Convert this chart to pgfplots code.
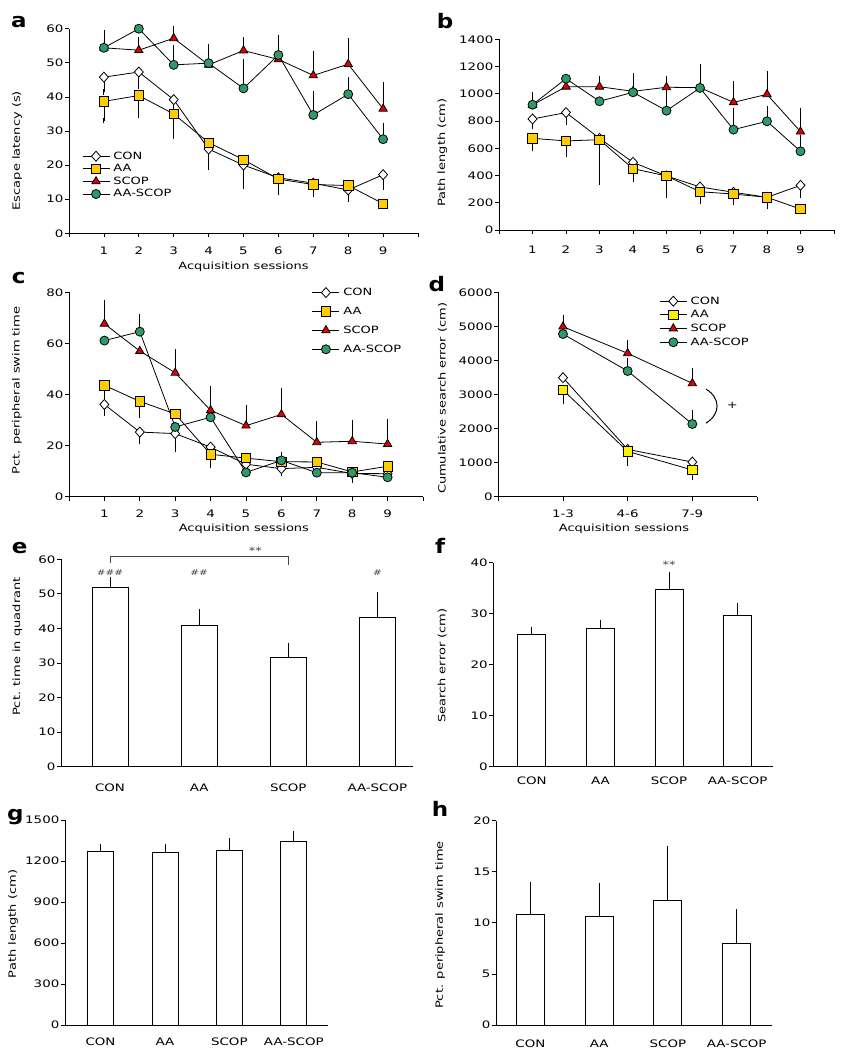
\documentclass[border=0pt]{standalone}
\usepackage{fontspec}
\setmainfont{DejaVu Sans}[FakeStretch=1.3]
\newfontfamily\letterfont{DejaVu Sans}[FakeStretch=1.15]
\usepackage{pgfplots}
\pgfplotsset{compat=1.18}
\definecolor{aayel}{HTML}{FFCC00}
\definecolor{aayel2}{HTML}{FFF000}
\definecolor{scopred}{HTML}{E00000}
\definecolor{aagreen}{HTML}{2E9A6A}
\definecolor{annot}{HTML}{444444}
\pgfplotsset{
  panel/.style={
    scale only axis, axis lines=left,
    axis line style={-, line width=0.8pt, black},
    tick style={line width=0.8pt, black}, tick align=outside, major tick length=4pt,
    minor tick num=0,
    /pgf/number format/assume math mode=true,
    /pgf/number format/1000 sep={},
    tick label style={font=\fontsize{10.3}{12}\selectfont, black},
    yticklabel style={inner xsep=1.5pt},
    ylabel style={font=\fontsize{10}{12}\selectfont, anchor=center},
    xlabel style={font=\fontsize{10}{12}\selectfont, anchor=center},
    clip=false,
    legend style={draw=none, fill=none, font=\fontsize{10}{12}\selectfont,
      inner sep=0pt, anchor=north west, legend cell align=left,
      nodes={inner sep=0.5pt},
      /tikz/every odd column/.append style={column sep=3pt}},
    legend image code/.code={\draw[mark repeat=2,mark phase=2,#1] plot coordinates {(0pt,0pt) (13.5pt,0pt) (27pt,0pt)};},
  },
  barpanel/.style={panel, ybar, xtick={1,2,3,4},
    xticklabels={CON,AA,SCOP,AA-SCOP}, xtick style={draw=none}},
  conmark/.style={black, line width=0.8pt, mark=diamond*, mark size=5pt, mark options={fill=white, xscale=1.2}},
  aamark/.style={black, line width=0.8pt, mark=square*, mark size=4.7pt, mark options={fill=aayel}},
  scopmark/.style={black, line width=0.8pt, mark=triangle*, mark size=4.8pt, mark options={fill=scopred}},
  aasmark/.style={black, line width=0.8pt, mark=*, mark size=4.5pt, mark options={fill=aagreen}},
  errs/.style={forget plot, draw=none, mark=none,
    error bars/.cd, y dir=both, y explicit,
    error bar style={draw=black, line width=0.8pt},
    error mark options={draw=black, mark size=2.7pt, line width=0.8pt}},
  barplot/.style={fill=white, draw=black, line width=0.8pt,
    error bars/.cd, y dir=plus, y explicit,
    error bar style={draw=black, line width=0.8pt},
    error mark options={draw=black, mark size=3pt, line width=0.8pt}},
}
\begin{document}
\begin{tikzpicture}
\useasboundingbox (0,0) rectangle (854pt,-1050pt);
\tikzset{plabel/.style={anchor=base west, inner sep=0pt, font=\letterfont\bfseries\fontsize{20}{20}\selectfont}}
\node[plabel] at (11pt,-27.3pt) {a};
\node[plabel] at (436.7pt,-28.3pt) {b};
\node[plabel] at (11.7pt,-283.3pt) {c};
\node[plabel] at (428.3pt,-291.7pt) {d};
\node[plabel] at (11.7pt,-553.3pt) {e};
\node[plabel] at (435pt,-553.3pt) {f};
\node[plabel] at (7pt,-820pt) {g};
\node[plabel] at (431.7pt,-816.7pt) {h};

% ---------------- a
\begin{axis}[panel, at={(69pt,-233.3pt)}, anchor=south west, width=349pt, height=204.6pt,
  xmin=0, xmax=10, ymin=0, ymax=60, xtick={0,...,10},
  xticklabels={{},1,2,3,4,5,6,7,8,9,{}}, ytick={0,10,...,60},
  xticklabel style={yshift=-6pt},
  xlabel={Acquisition sessions}, ylabel={Escape latency (s)},
  xlabel style={at={(axis description cs:0.5,-0.163)}},
  ylabel style={at={(axis description cs:-0.149,0.404)}},
  legend style={at={(axis description cs:0.037,0.402)}, row sep=2.7pt}]
\addplot[errs] coordinates {(1,45.8) -= (0,4.4) (2,47.3) -= (0,4.1) (3,39.2) -= (0,8.1) (4,24.7) -= (0,5.4) (5,20.0) -= (0,6.1) (6,16.3) -= (0,4.4) (7,14.7) -= (0,3.3) (8,12.7) -= (0,2.6) (9,17.2) -= (0,3.7)};
\addplot[errs] coordinates {(1,38.7) -= (0,5.7) (2,40.4) -= (0,5.8) (3,35.0) -= (0,6.5) (4,26.6) -= (0,4.6) (5,21.6) -= (0,2.2) (6,15.9) -= (0,1.5) (7,14.3) -= (0,2.5)};
\addplot[errs] coordinates {(1,54.4) += (0,2.8) (2,53.7) += (0,3.0) (3,57.2) += (0,2.8) (4,49.4) += (0,5.3) (5,53.6) += (0,3.1) (6,51.0) += (0,4.0) (7,46.3) += (0,6.5) (8,49.6) += (0,6.8) (9,36.5) += (0,7.2)};
\addplot[errs] coordinates {(1,54.4) += (0,4.4) (3,49.4) += (0,4.9) (4,49.9) += (0,4.8) (5,42.5) += (0,7.9) (6,52.3) += (0,5.2) (7,34.7) += (0,6.1) (8,40.8) += (0,4.2) (9,27.6) += (0,4.0)};
\addplot[conmark] coordinates {(1,45.8) (2,47.3) (3,39.2) (4,24.7) (5,20.0) (6,16.3) (7,14.7) (8,12.7) (9,17.2)};
\addplot[aamark] coordinates {(1,38.7) (2,40.4) (3,35.0) (4,26.6) (5,21.6) (6,15.9) (7,14.3) (8,14.0) (9,8.7)};
\addplot[scopmark] coordinates {(1,54.4) (2,53.7) (3,57.2) (4,49.4) (5,53.6) (6,51.0) (7,46.3) (8,49.6) (9,36.5)};
\addplot[aasmark] coordinates {(1,54.4) (2,60.0) (3,49.4) (4,49.9) (5,42.5) (6,52.3) (7,34.7) (8,40.8) (9,27.6)};
\legend{CON,AA,SCOP,AA-SCOP}
\end{axis}

% ---------------- b
\begin{axis}[panel, at={(499pt,-230pt)}, anchor=south west, width=335pt, height=190.7pt,
  xmin=0, xmax=10, ymin=0, ymax=1400, xtick={0,...,10},
  xticklabels={{},1,2,3,4,5,6,7,8,9,{}}, ytick={0,200,...,1400},
  xticklabel style={yshift=-8pt},
  ylabel={Path length (cm)},
  ylabel style={at={(axis description cs:-0.169,0.406)}}]
\addplot[errs] coordinates {(1,815) -= (0,56) (2,862) -= (0,70) (4,497) -= (0,123) (5,397) -= (0,108) (6,316) -= (0,103) (7,277) -= (0,74) (8,240) -= (0,69) (9,328) -= (0,76)};
\addplot[errs] coordinates {(1,673) -= (0,76) (2,654) -= (0,95) (3,663) -= (0,310) (4,450) -= (0,76) (5,397) -= (0,140) (6,281) -= (0,65) (7,264) -= (0,50) (8,240) -= (0,60)};
\addplot[errs] coordinates {(1,918) += (0,73) (3,1052) += (0,59) (4,1018) += (0,113) (5,1048) += (0,61) (6,1045) += (0,154) (7,937) += (0,135) (8,996) += (0,149) (9,722) += (0,154)};
\addplot[errs] coordinates {(4,1011) += (0,120) (5,876) += (0,233) (6,1043) += (0,78) (7,737) += (0,142) (8,798) += (0,90) (9,578) += (0,103)};
\addplot[conmark] coordinates {(1,815) (2,862) (3,673) (4,497) (5,397) (6,316) (7,277) (8,240) (9,328)};
\addplot[aamark] coordinates {(1,673) (2,654) (3,663) (4,450) (5,397) (6,281) (7,264) (8,240) (9,154)};
\addplot[scopmark] coordinates {(1,918) (2,1052) (3,1052) (4,1018) (5,1048) (6,1045) (7,937) (8,996) (9,722)};
\addplot[aasmark] coordinates {(1,920) (2,1111) (3,945) (4,1011) (5,876) (6,1043) (7,737) (8,798) (9,578)};
\end{axis}

% ---------------- c
\begin{axis}[panel, at={(69pt,-496.7pt)}, anchor=south west, width=354pt, height=204.4pt,
  xmin=0, xmax=10, ymin=0, ymax=80, xtick={0,...,10},
  xticklabels={{},1,2,3,4,5,6,7,8,9,{}}, ytick={0,20,...,80},
  xticklabel style={yshift=-6pt},
  xlabel={Acquisition sessions}, ylabel={Pct. peripheral swim time},
  xlabel style={at={(axis description cs:0.494,-0.155)}},
  ylabel style={at={(axis description cs:-0.147,0.519)}},
  legend style={at={(axis description cs:0.686,1.024)}, row sep=9pt}]
\addplot[errs] coordinates {(1,36.1) -= (0,3.5) (2,25.3) -= (0,3.8) (3,24.7) -= (0,6.2) (6,11.0) -= (0,1.9) (8,9.1) -= (0,2.6)};
\addplot[errs] coordinates {(1,43.6) -= (0,5.0) (2,37.3) -= (0,5.5) (4,16.6) -= (0,4.2) (6,13.7) += (0,2.6)};
\addplot[errs] coordinates {(1,67.7) += (0,8.3) (3,48.5) += (0,8.1) (4,33.8) += (0,8.5) (5,27.8) += (0,7.2) (6,32.2) += (0,9.4) (7,21.3) += (0,7.4) (8,21.7) += (0,7.4) (9,20.6) += (0,8.8)};
\addplot[errs] coordinates {(2,64.6) += (0,5.9) (4,31.1) += (0,6.0)};
\addplot[conmark] coordinates {(1,36.1) (2,25.3) (3,24.7) (4,19.4) (5,12.7) (6,11.0) (7,11.5) (8,9.1) (9,9.0)};
\addplot[aamark] coordinates {(1,43.6) (2,37.3) (3,32.4) (4,16.6) (5,15.1) (6,13.7) (7,13.6) (8,9.7) (9,11.9)};
\addplot[scopmark] coordinates {(1,67.7) (2,57.0) (3,48.5) (4,33.8) (5,27.8) (6,32.2) (7,21.3) (8,21.7) (9,20.6)};
\addplot[aasmark] coordinates {(1,61.1) (2,64.6) (3,27.3) (4,31.1) (5,9.5) (6,14.2) (7,9.4) (8,9.4) (9,7.6)};
\legend{CON,AA,SCOP,AA-SCOP}
\end{axis}

% ---------------- d
\begin{axis}[panel, at={(498.3pt,-496.7pt)}, anchor=south west, width=258.7pt, height=204.4pt,
  xmin=0, xmax=4, ymin=0, ymax=6000, xtick={0,...,4},
  xticklabels={{},1-3,4-6,7-9,{}}, ytick={0,1000,...,6000},
  xticklabel style={yshift=-6pt},
  xlabel={Acquisition sessions}, ylabel={Cumulative search error (cm)},
  xlabel style={at={(axis description cs:0.486,-0.155)}},
  ylabel style={at={(axis description cs:-0.216,0.481)}},
  legend style={at={(axis description cs:0.622,0.982)}, row sep=3.8pt}]
\addplot[errs] coordinates {(1,3132) -= (0,342) (2,1331) -= (0,352) (3,783) -= (0,215)};
\addplot[errs] coordinates {(1,4992) += (0,274) (2,4209) += (0,313) (3,3328) += (0,362)};
\addplot[errs] coordinates {(2,3690) += (0,303) (3,2134) += (0,333)};
\addplot[conmark] coordinates {(1,3494) (2,1389) (3,1018)};
\addplot[aamark, mark options={fill=aayel2}] coordinates {(1,3132) (2,1331) (3,783)};
\addplot[scopmark] coordinates {(1,4992) (2,4209) (3,3328)};
\addplot[aasmark] coordinates {(1,4776) (2,3690) (3,2134)};
\legend{CON,AA,SCOP,AA-SCOP}
\draw[line width=1pt] (axis cs:3.21,3160) .. controls (axis cs:3.44,2900) and (axis cs:3.44,2420) .. (axis cs:3.21,2160);
\node[font=\fontsize{10}{12}\selectfont] at (axis cs:3.62,2690) {+};
\end{axis}

% ---------------- e
\begin{axis}[barpanel, at={(61pt,-766.7pt)}, anchor=south west, width=352pt, height=207.4pt,
  xmin=0.45, xmax=4.4, ymin=0, ymax=60, ytick={0,10,...,60}, bar width=36pt,
  xticklabel style={yshift=-10pt},
  ylabel={Pct. time in quadrant},
  ylabel style={at={(axis description cs:-0.124,0.579)}}]
\addplot[barplot] coordinates {(1,51.9) +- (0,2.1) (2,41.0) +- (0,3.7) (3,31.5) +- (0,3.3) (4,43.2) +- (0,6.4)};
\draw[line width=0.6pt, annot] (axis cs:1,58.8) -- (axis cs:1,60.8) -- (axis cs:3,60.8) -- (axis cs:3,58.4);
\node[font=\fontsize{10}{12}\selectfont, annot] at (axis cs:2.63,62.6) {**};
\node[font=\fontsize{8}{9}\selectfont, annot] at (axis cs:1,56.2) {\#\#\#};
\node[font=\fontsize{8}{9}\selectfont, annot] at (axis cs:2,56.2) {\#\#};
\node[font=\fontsize{8}{9}\selectfont, annot] at (axis cs:4,56.2) {\#};
\end{axis}

% ---------------- f
\begin{axis}[barpanel, at={(493.3pt,-766.7pt)}, anchor=south west, width=279.4pt, height=204pt,
  xmin=0.44, xmax=4.51, ymin=0, ymax=40, ytick={0,10,...,40}, bar width=28pt,
  xticklabel style={yshift=-3pt},
  ylabel={Search error (cm)},
  ylabel style={at={(axis description cs:-0.183,0.495)}}]
\addplot[barplot] coordinates {(1,26.0) +- (0,0.9) (2,27.2) +- (0,1.0) (3,34.8) +- (0,2.7) (4,29.7) +- (0,1.8)};
\node[font=\fontsize{10}{12}\selectfont, annot] at (axis cs:3,39.5) {**};
\end{axis}

% ---------------- g
\begin{axis}[barpanel, at={(65pt,-1025pt)}, anchor=south west, width=263pt, height=205pt,
  xmin=0.45, xmax=4.53, ymin=0, ymax=1500, ytick={0,300,...,1500}, bar width=26pt,
  xticklabel style={yshift=-5pt},
  ylabel={Path length (cm)},
  ylabel style={at={(axis description cs:-0.197,0.493)}}]
\addplot[barplot] coordinates {(1,1271) +- (0,31) (2,1266) +- (0,36) (3,1278) +- (0,68) (4,1344) +- (0,54)};
\end{axis}

% ---------------- h
\begin{axis}[barpanel, at={(496pt,-1025pt)}, anchor=south west, width=275.7pt, height=204.3pt,
  xmin=0.5, xmax=4.51, ymin=0, ymax=20, ytick={0,5,...,20}, bar width=28pt,
  xticklabel style={yshift=-7pt},
  ylabel={Pct. peripheral swim time},
  ylabel style={at={(axis description cs:-0.203,0.489)}}]
\addplot[barplot] coordinates {(1,10.83) +- (0,2.91) (2,10.67) +- (0,2.9) (3,12.17) +- (0,5.09) (4,7.99) +- (0,3.04)};
\end{axis}
\end{tikzpicture}
\end{document}
